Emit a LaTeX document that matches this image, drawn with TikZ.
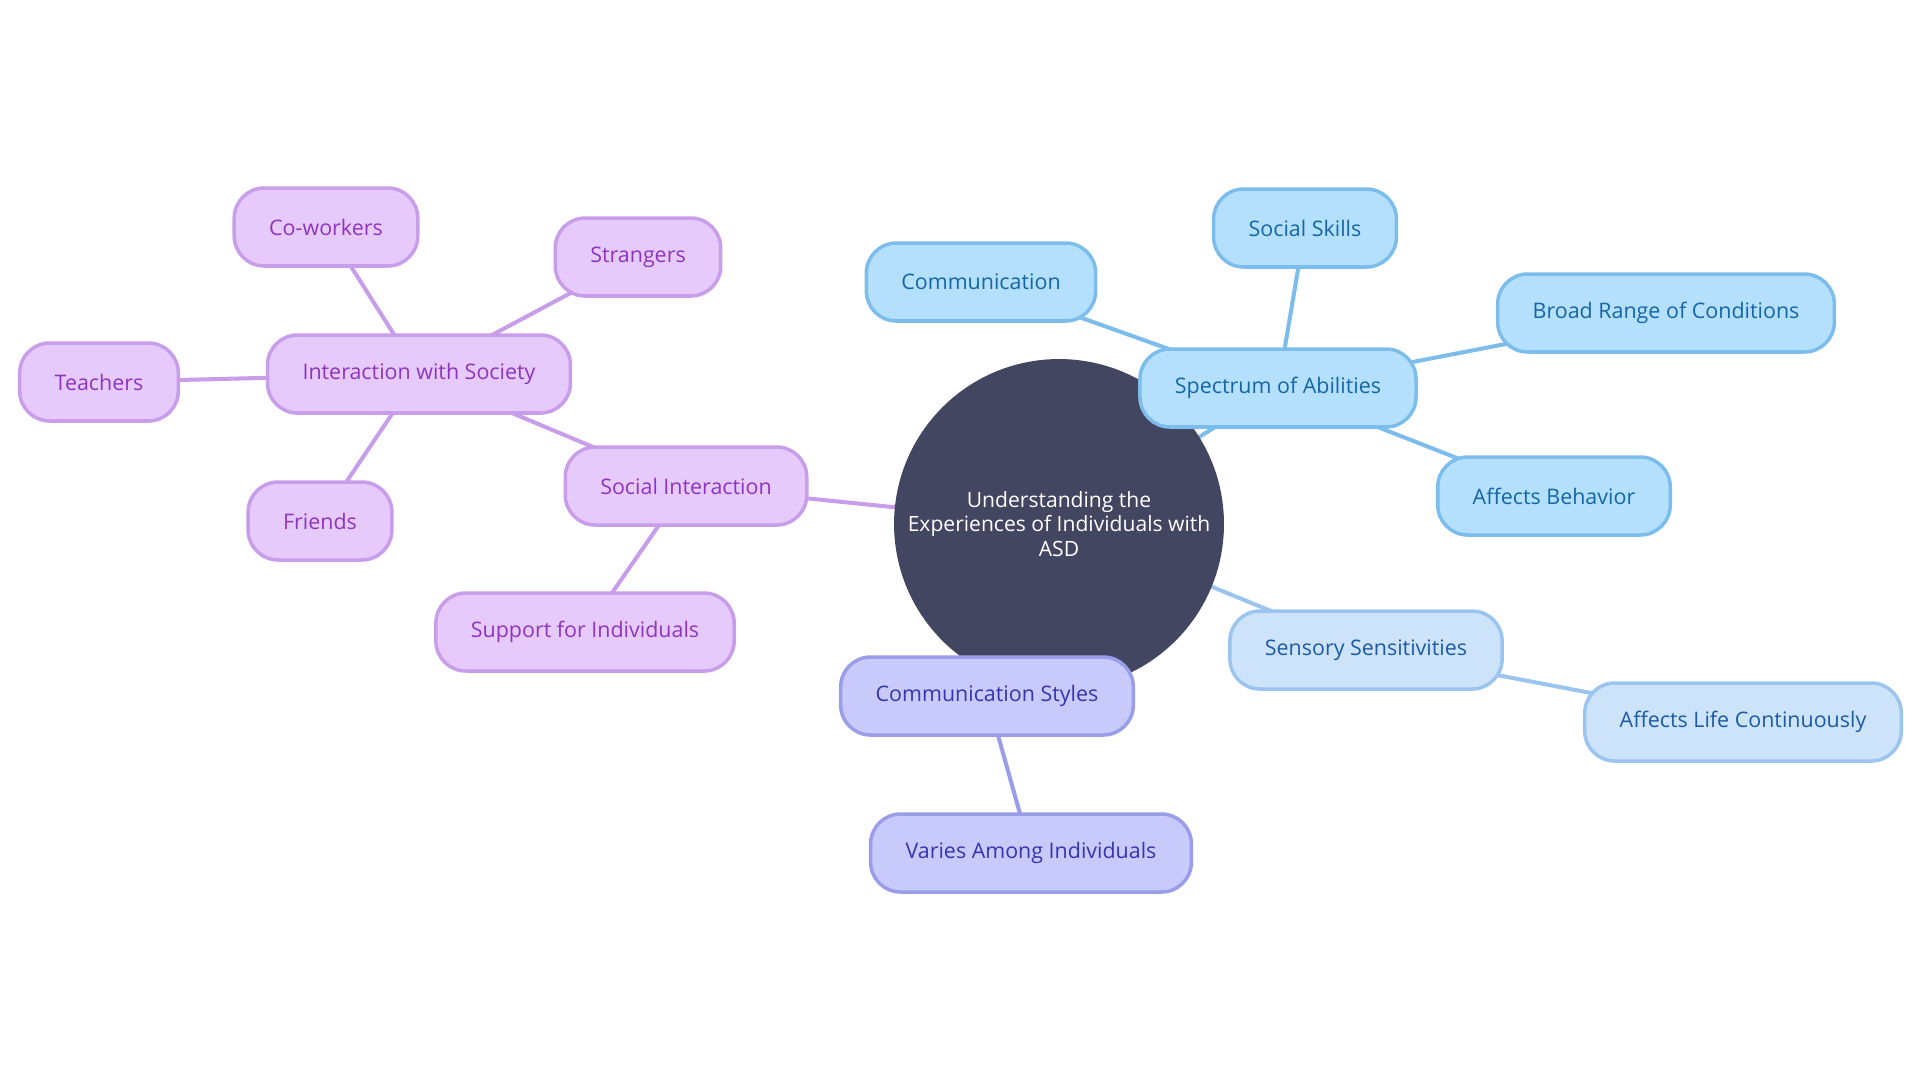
\documentclass[tikz,border=0pt]{standalone}
\usepackage{fontspec}
\setmainfont{Open Sans}
\usetikzlibrary{positioning}
\usetikzlibrary{backgrounds}
\definecolor{custom-dark}{RGB}{66, 70, 96}
\definecolor{purple-fill}{RGB}{231, 202, 252}
\definecolor{purple-line}{RGB}{200, 157, 234}
\definecolor{purple-text}{RGB}{142, 52, 192}
\definecolor{blue-fill}{RGB}{180, 224, 253}
\definecolor{blue-line}{RGB}{125, 189, 235}
\definecolor{blue-text}{RGB}{20, 102, 168}
\definecolor{sky-fill}{RGB}{205, 227, 250}
\definecolor{sky-line}{RGB}{155, 196, 238}
\definecolor{sky-text}{RGB}{28, 91, 166}
\definecolor{lav-fill}{RGB}{200, 202, 252}
\definecolor{lav-line}{RGB}{154, 157, 234}
\definecolor{lav-text}{RGB}{53, 53, 176}
\tikzset{
  idea/.style={draw, line width=2pt, rounded corners=0.6cm, minimum height=1.56cm,
    inner xsep=0.7cm, font=\fontsize{12.2}{14.5}\selectfont},
  purple-idea/.style={idea, fill=purple-fill, draw=purple-line, text=purple-text},
  blue-idea/.style={idea, fill=blue-fill, draw=blue-line, text=blue-text},
  sky-idea/.style={idea, fill=sky-fill, draw=sky-line, text=sky-text},
  lav-idea/.style={idea, fill=lav-fill, draw=lav-line, text=lav-text},
  link/.style={line width=2.3pt}
}
\begin{document}
\begin{tikzpicture}[x=0.02cm, y=-0.02cm]
\useasboundingbox (0,0) rectangle (1920,1080);
\node[circle, fill=custom-dark, minimum size=6.6cm, text=white, align=center,
  font=\fontsize{12}{14}\selectfont] (asd) at (1059,524)
  {Understanding the\\Experiences of Individuals with\\ASD};

\node[blue-idea] (spectrum) at (1278,388) {Spectrum of Abilities};
\node[blue-idea] (comm) at (981,282) {Communication};
\node[blue-idea] (skills) at (1305,228) {Social Skills};
\node[blue-idea] (range) at (1666,313) {Broad Range of Conditions};
\node[blue-idea] (behavior) at (1554,496) {Affects Behavior};

\node[sky-idea] (sensory) at (1366,650) {Sensory Sensitivities};
\node[sky-idea] (life) at (1743,722) {Affects Life Continuously};

\node[lav-idea] (styles) at (987,696) {Communication Styles};
\node[lav-idea] (varies) at (1031,853) {Varies Among Individuals};

\node[purple-idea] (social) at (686,486) {Social Interaction};
\node[purple-idea] (support) at (585,632) {Support for Individuals};
\node[purple-idea] (society) at (419,374) {Interaction with Society};
\node[purple-idea] (coworkers) at (326,227) {Co-workers};
\node[purple-idea] (strangers) at (638,257) {Strangers};
\node[purple-idea] (teachers) at (99,382) {Teachers};
\node[purple-idea] (friends) at (320,521) {Friends};

\begin{scope}[on background layer]
\draw[link, blue-line] (asd.center) -- (spectrum.center);
\draw[link, blue-line] (spectrum.center) -- (comm.center);
\draw[link, blue-line] (spectrum.center) -- (skills.center);
\draw[link, blue-line] (spectrum.center) -- (range.center);
\draw[link, blue-line] (spectrum.center) -- (behavior.center);
\draw[link, sky-line] (asd.center) -- (sensory.center);
\draw[link, sky-line] (sensory.center) -- (life.center);
\draw[link, lav-line] (asd.center) -- (styles.center);
\draw[link, lav-line] (styles.center) -- (varies.center);
\draw[link, purple-line] (asd.center) -- (social.center);
\draw[link, purple-line] (social.center) -- (support.center);
\draw[link, purple-line] (social.center) -- (society.center);
\draw[link, purple-line] (society.center) -- (coworkers.center);
\draw[link, purple-line] (society.center) -- (strangers.center);
\draw[link, purple-line] (society.center) -- (teachers.center);
\draw[link, purple-line] (society.center) -- (friends.center);
\end{scope}
\end{tikzpicture}
\end{document}
